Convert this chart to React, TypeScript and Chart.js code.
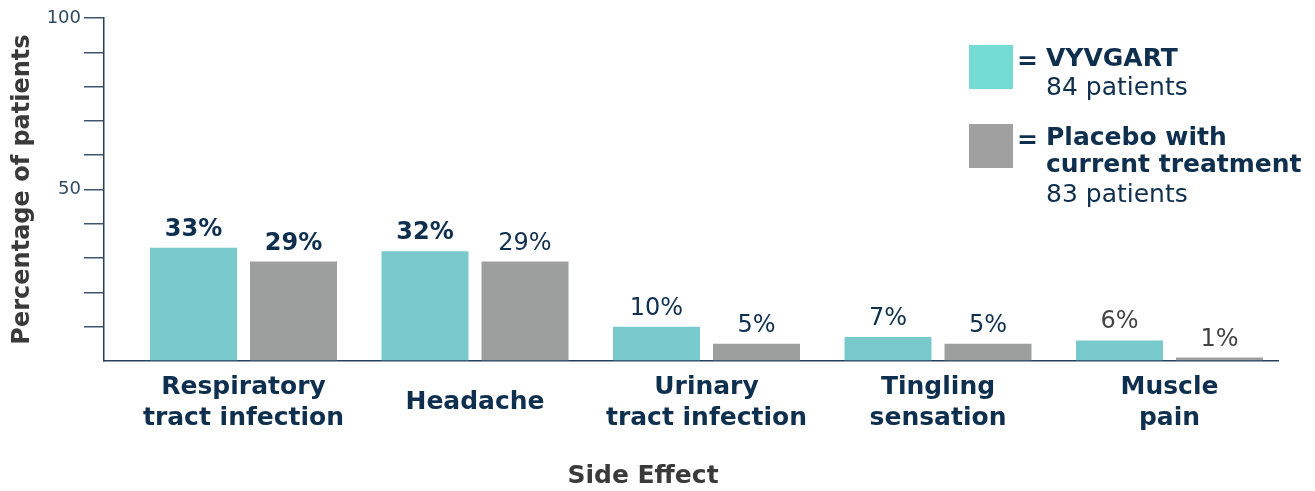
import React, { useEffect, useRef } from 'react';
import { Chart, registerables } from 'chart.js';

Chart.register(...registerables);

// ---- data ----
const categories: string[][] = [
  ['Respiratory', 'tract infection'],
  ['Headache'],
  ['Urinary', 'tract infection'],
  ['Tingling', 'sensation'],
  ['Muscle', 'pain'],
];
const vyvgartValues = [33, 32, 10, 7, 6];
const placeboValues = [29, 29, 5, 5, 1];
const seriesNames = ['VYVGART', 'Placebo with current treatment'];
const seriesNameLines = [['VYVGART'], ['Placebo with', 'current treatment']];
const seriesNotes = ['84 patients', '83 patients'];
const yTickValues = [0, 10, 20, 30, 40, 50, 60, 70, 80, 90, 100];
const yLabeledTicks = [50, 100];
const yTitle = 'Percentage of patients';
const xTitle = 'Side Effect';

// ---- styles ----
const FONT = '"DejaVu Sans", sans-serif';
const NAVY = '#0f2f4f';
const DARK = '#3a3a3a';
const BAR_COLORS = ['#78cacd', '#9d9e9e'];
const LEGEND_COLORS = ['#74dcd5', '#a0a0a1'];
const labelWeights = [
  ['bold', 'bold', 'normal', 'normal', 'normal'],
  ['bold', 'normal', 'normal', 'normal', 'normal'],
];
const labelColors = [
  [NAVY, NAVY, NAVY, NAVY, '#444444'],
  [NAVY, NAVY, NAVY, NAVY, '#444444'],
];

const valueLabelPlugin = {
  id: 'valueLabels',
  afterDatasetsDraw(chart: any) {
    const ctx = chart.ctx;
    ctx.save();
    ctx.textAlign = 'center';
    ctx.textBaseline = 'alphabetic';
    chart.data.datasets.forEach((ds: any, d: number) => {
      const meta = chart.getDatasetMeta(d);
      meta.data.forEach((bar: any, i: number) => {
        const v = ds.data[i].y;
        ctx.font = `${labelWeights[d][i]} 24px ${FONT}`;
        ctx.fillStyle = labelColors[d][i];
        ctx.fillText(`${v}%`, bar.x, bar.y - 12);
      });
    });
    ctx.restore();
  },
};

const legendPlugin = {
  id: 'customLegend',
  afterDraw(chart: any) {
    const ctx = chart.ctx;
    const { right, top } = chart.chartArea;
    const x0 = right - 309;
    const blocks = [
      { boxY: top + 27, eqY: top + 44, lines: [top + 48], note: top + 77 },
      { boxY: top + 106, eqY: top + 123, lines: [top + 127, top + 154], note: top + 184 },
    ];
    ctx.save();
    blocks.forEach((b, i) => {
      ctx.fillStyle = LEGEND_COLORS[i];
      ctx.fillRect(x0, b.boxY, 44, 44);
      ctx.fillStyle = NAVY;
      ctx.textAlign = 'center';
      ctx.textBaseline = 'middle';
      ctx.font = `bold 25px ${FONT}`;
      ctx.fillText('=', x0 + 58.5, b.eqY);
      ctx.textAlign = 'left';
      ctx.textBaseline = 'alphabetic';
      seriesNameLines[i].forEach((line, j) => {
        ctx.fillText(line, x0 + 77, b.lines[j]);
      });
      ctx.font = `normal 25px ${FONT}`;
      ctx.fillText(seriesNotes[i], x0 + 77, b.note);
    });
    ctx.restore();
  },
};

export default function App() {
  const canvasRef = useRef<HTMLCanvasElement | null>(null);

  useEffect(() => {
    if (!canvasRef.current) return;
    const chart = new Chart(canvasRef.current, {
      type: 'bar',
      data: {
        datasets: [
          {
            label: seriesNames[0],
            data: vyvgartValues.map((v, i) => ({ x: i, y: v })),
            backgroundColor: BAR_COLORS[0],
            borderWidth: 0,
          },
          {
            label: seriesNames[1],
            data: placeboValues.map((v, i) => ({ x: i, y: v })),
            backgroundColor: BAR_COLORS[1],
            borderWidth: 0,
          },
        ],
      },
      options: {
        animation: false,
        responsive: true,
        maintainAspectRatio: false,
        layout: { padding: { top: 10, right: 29, left: 0, bottom: 0 } },
        datasets: {
          bar: { categoryPercentage: 0.864, barPercentage: 0.87, grouped: true },
        },
        plugins: {
          legend: { display: false },
          tooltip: { enabled: false },
          title: {
            display: true,
            position: 'bottom',
            text: xTitle,
            color: DARK,
            font: { family: FONT, size: 25, weight: 'bold', lineHeight: 1.2 },
            padding: 0,
          },
        },
        scales: {
          x: {
            type: 'linear',
            offset: false,
            min: -0.6026,
            max: 4.4687,
            afterBuildTicks: (s: any) => {
              s.ticks = categories.map((_, i) => ({ value: i }));
            },
            afterFit: (s: any) => {
              s.height = 100;
            },
            ticks: {
              autoSkip: false,
              maxRotation: 0,
              minRotation: 0,
              padding: 26,
              crossAlign: 'center',
              color: NAVY,
              font: { family: FONT, size: 25, weight: 'bold', lineHeight: 1.24 },
              callback: (v: any) => categories[v] ?? '',
            },
            grid: { display: false, drawTicks: false, offset: false },
            border: { display: true, color: '#23405c', width: 1.5 },
          },
          y: {
            min: 0,
            max: 100,
            afterBuildTicks: (s: any) => {
              s.ticks = yTickValues.map((v) => ({ value: v }));
            },
            afterFit: (s: any) => {
              s.width = 96;
              s.paddingTop = 0;
              s.paddingBottom = 0;
            },
            ticks: {
              padding: 3,
              color: '#2f4a63',
              font: { family: FONT, size: 18, weight: 'normal' },
              callback: (v: any) => (yLabeledTicks.includes(v) ? String(v) : ''),
            },
            grid: {
              drawOnChartArea: false,
              drawTicks: true,
              tickLength: 20,
              lineWidth: 1.5,
              color: (c: any) => (c.tick && c.tick.value === 0 ? 'rgba(0,0,0,0)' : '#3c5570'),
            },
            border: { display: true, color: '#23405c', width: 1.5 },
            title: {
              display: true,
              text: yTitle,
              color: DARK,
              font: { family: FONT, size: 24, weight: 'bold', lineHeight: 1.2 },
              padding: { top: 0, bottom: 0 },
            },
          },
        },
      },
      plugins: [valueLabelPlugin, legendPlugin],
    } as any);
    return () => chart.destroy();
  }, []);

  return (
    <div style={{ position: 'relative', width: '100%', height: 475 }}>
      <div style={{ position: 'absolute', left: 0, top: 0, right: 0, height: 483 }}>
        <canvas ref={canvasRef} />
      </div>
    </div>
  );
}
